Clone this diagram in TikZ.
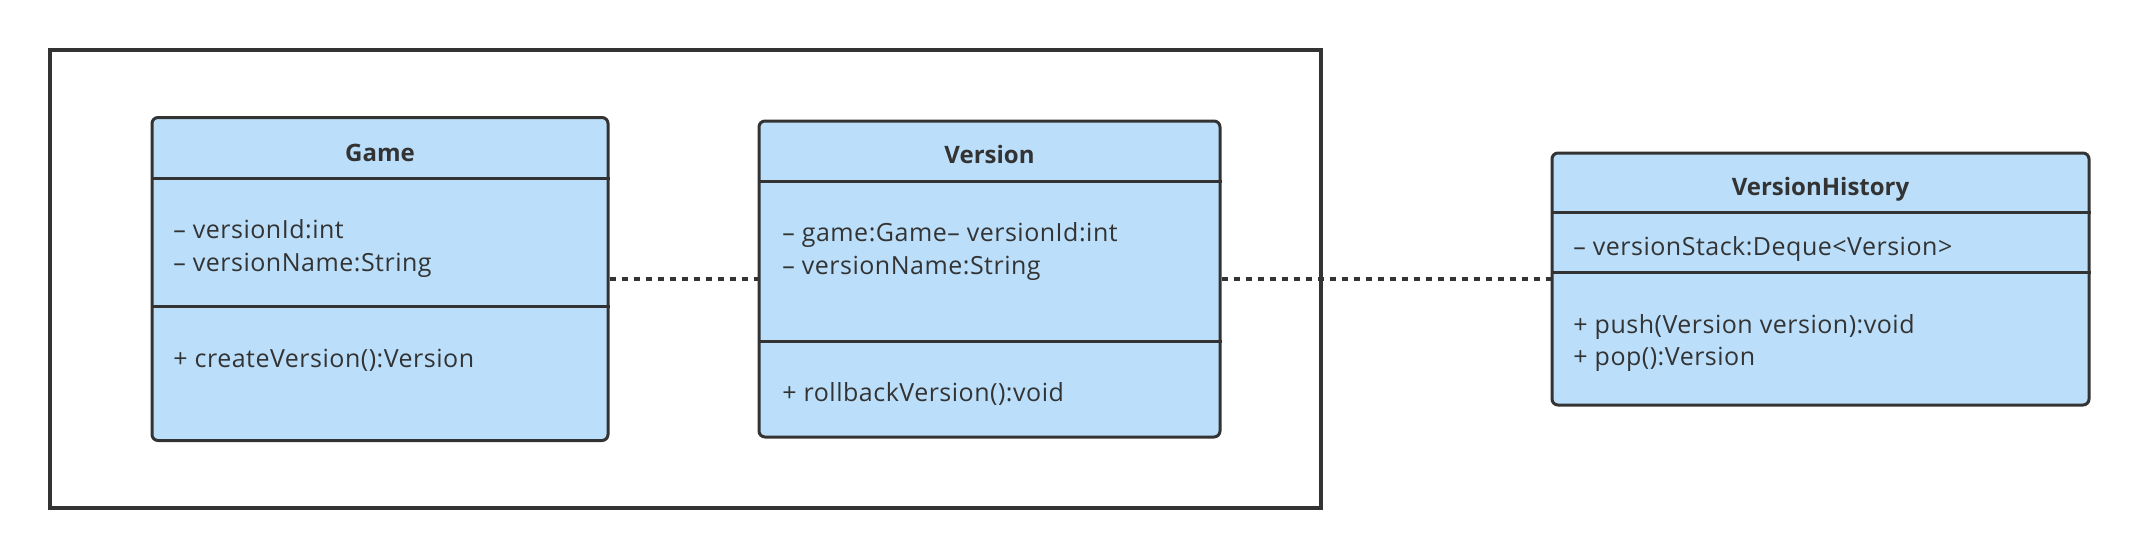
\documentclass[tikz,border=0pt]{standalone}
\usepackage{fontspec}
\setmainfont{Open Sans}
\newfontfamily\memberfont[LetterSpace=2]{Open Sans}
\usetikzlibrary{positioning}
\definecolor{boxfill}{RGB}{187,223,250}
\definecolor{ink}{RGB}{51,51,51}
\tikzset{
  classbox/.style={draw=ink,fill=boxfill,line width=1.5pt,rounded corners=3pt,inner sep=0pt},
  sepline/.style={draw=ink,line width=1.5pt},
  title/.style={font=\fontsize{12}{14}\selectfont\bfseries,text=ink,anchor=base,inner sep=0pt},
  member/.style={font=\memberfont\fontsize{12.5}{14}\selectfont,text=ink,anchor=base west,inner sep=0pt},
  link/.style={draw=ink,line width=1.6pt,dash pattern=on 3pt off 3pt}
}
\begin{document}
\begin{tikzpicture}[x=0.5pt,y=-0.5pt]
		\useasboundingbox (0,0) rectangle (2140,558);
		
		% package frame
		\draw[ink,line width=2pt] (50,50) rectangle (1321,508);
		
		% classes
		\node[classbox,minimum width=228pt,minimum height=161.5pt] (game) at (380,279) {};
		\node[classbox,minimum width=230.5pt,minimum height=158pt] (version) at (989.5,279) {};
		\node[classbox,minimum width=268.5pt,minimum height=126pt] (history) at (1820.5,279) {};
		
		% compartments
		\draw[sepline] (game.west |- 0,178) -- (game.east |- 0,178);
		\draw[sepline] (game.west |- 0,306) -- (game.east |- 0,306);
		\draw[sepline] (version.west |- 0,181) -- (version.east |- 0,181);
		\draw[sepline] (version.west |- 0,341) -- (version.east |- 0,341);
		\draw[sepline] (history.west |- 0,212) -- (history.east |- 0,212);
		\draw[sepline] (history.west |- 0,272) -- (history.east |- 0,272);
		
		% Game
		\node[title] (gametitle) at (380,161) {Game};
		\node[member] (gameid) at (173,238) {– versionId:int};
		\node[member] (gamename) at (173,271) {– versionName:String};
		\node[member] (gamecreate) at (173,367) {+ createVersion():Version};
		
		% Version
		\node[title] (versiontitle) at (989.5,163) {Version};
		\node[member] (versionid) at (782,241) {– game:Game– versionId:int};
		\node[member] (versionname) at (782,274) {– versionName:String};
		\node[member] (versionroll) at (782,401) {+ rollbackVersion():void};
		
		% VersionHistory
		\node[title] (historytitle) at (1820.5,195) {VersionHistory};
		\node[member] (historystack) at (1573,255) {– versionStack:Deque<Version>};
		\node[member] (historypush) at (1573,333) {+ push(Version version):void};
		\node[member] (historypop) at (1573,365) {+ pop():Version};
		
		% links
		\draw[link] (game.east) -- (version.west);
		\draw[link] (version.east) -- (history.west);
\end{tikzpicture}
\end{document}
